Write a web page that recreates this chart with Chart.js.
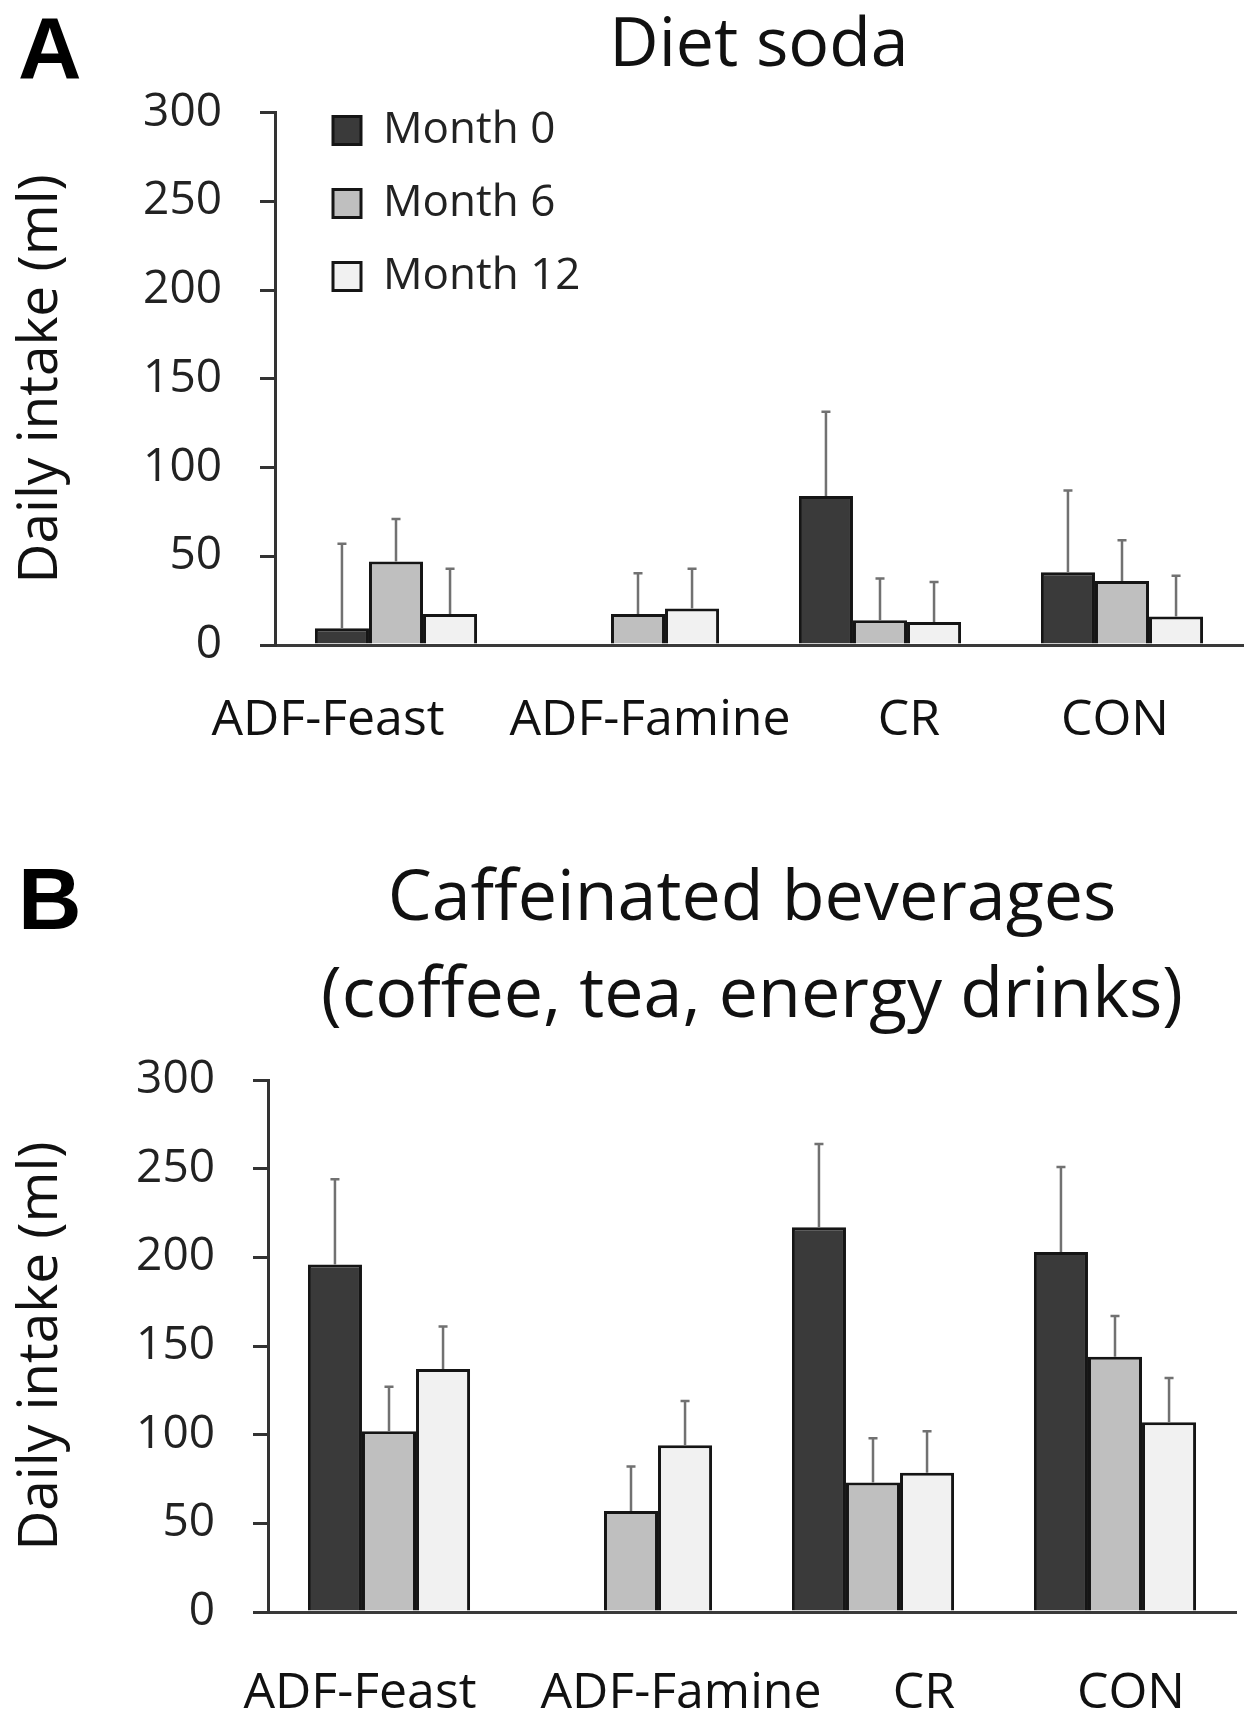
<!DOCTYPE html>
<html>
<head>
<meta charset="utf-8">
<script src="https://cdn.jsdelivr.net/npm/chart.js@4.4.1/dist/chart.umd.min.js"></script>
<style>
  html, body { margin: 0; padding: 0; background: #fff; }
  canvas { display: block; }
</style>
</head>
<body>
<canvas id="sodaChart" width="1256" height="760"></canvas>
<canvas id="cafChart" width="1256" height="969"></canvas>
<script>
// groups and series
const groups = ['ADF-Feast', 'ADF-Famine', 'CR', 'CON'];
const months = ['Month 0', 'Month 6', 'Month 12'];
const yMax = 300;
const yStep = 50;

// Diet soda (ml/day), bar heights and top of error bar
const sodaM0 = [9.5, null, 84, 41];
const sodaM6 = [47, 17.5, 14, 36];
const sodaM12 = [17.5, 20.5, 13, 16];
const sodaM0Err = [57, null, 131.5, 87];
const sodaM6Err = [71, 40.5, 37.5, 59];
const sodaM12Err = [43, 43, 35.5, 39];

// Caffeinated beverages (ml/day)
const cafM0 = [196, null, 217, 203];
const cafM6 = [102, 57, 73, 144];
const cafM12 = [137, 94, 78.5, 107];
const cafM0Err = [244, null, 264, 251];
const cafM6Err = [127, 82, 98, 167];
const cafM12Err = [161, 119, 102, 132];

const fills = ['#3a3a3a', '#bfbfbf', '#f1f1f1'];
const edge = '#151515';

Chart.defaults.font.family = "'Open Sans', sans-serif";
Chart.defaults.color = '#111';

// one-sided error bars, drawn from the bar top upward
const errorBars = {
  id: 'errorBars',
  afterDatasetsDraw(chart) {
    const ctx = chart.ctx;
    const y = chart.scales.y;
    ctx.save();
    ctx.strokeStyle = '#717171';
    ctx.lineWidth = 2.5;
    chart.data.datasets.forEach((ds, di) => {
      if (!ds.errTop) return;
      chart.getDatasetMeta(di).data.forEach((bar, i) => {
        if (ds.data[i] == null || ds.errTop[i] == null) return;
        const top = y.getPixelForValue(ds.errTop[i]);
        ctx.beginPath();
        ctx.moveTo(bar.x, bar.y);
        ctx.lineTo(bar.x, top);
        ctx.moveTo(bar.x - 4.5, top);
        ctx.lineTo(bar.x + 4.5, top);
        ctx.stroke();
      });
    });
    ctx.restore();
  }
};

// group labels sit a bit off the group centre in the original
const groupLabels = {
  id: 'groupLabels',
  afterDraw(chart, args, opts) {
    const ctx = chart.ctx;
    const x = chart.scales.x;
    ctx.save();
    ctx.font = "50px 'Open Sans', sans-serif";
    ctx.fillStyle = '#111';
    ctx.textAlign = 'center';
    ctx.textBaseline = 'alphabetic';
    chart.data.labels.forEach((lab, i) => {
      ctx.fillText(lab, x.getPixelForValue(i) + opts.shift[i], opts.baseline);
    });
    ctx.restore();
  }
};

const panelLetter = {
  id: 'panelLetter',
  afterDraw(chart, args, opts) {
    const ctx = chart.ctx;
    ctx.save();
    ctx.font = "bold 88px 'Liberation Sans', Arial, sans-serif";
    ctx.fillStyle = '#000';
    ctx.textAlign = 'left';
    ctx.textBaseline = 'alphabetic';
    ctx.fillText(opts.text, 18, opts.baseline);
    ctx.restore();
  }
};

// legend lives inside the plot, near the top-left corner
const legendNudge = {
  id: 'legendNudge',
  afterLayout(chart) {
    const lg = chart.legend;
    if (lg && lg.options.display) {
      lg.left = chart.chartArea.left + 29;
      lg.top = chart.chartArea.top - 33;
      lg.bottom = chart.chartArea.bottom;
    }
  }
};

function makeDatasets(series, errs) {
  return series.map((vals, k) => ({
    label: months[k],
    data: vals,
    errTop: errs[k],
    backgroundColor: fills[k],
    borderColor: edge,
    borderWidth: 3,
    borderSkipped: 'bottom',
    barPercentage: 1,
    categoryPercentage: 0.67
  }));
}

function makeOptions(cfg) {
  return {
    responsive: false,
    animation: false,
    layout: { padding: { left: 0, top: 0, bottom: 0, right: cfg.rightSpace } },
    plugins: {
      title: {
        display: true,
        text: cfg.title,
        fullSize: false,
        color: '#111',
        font: { size: cfg.titleSize, weight: 'normal', lineHeight: cfg.titleLine },
        padding: { top: cfg.titleTop, bottom: cfg.titleBottom }
      },
      legend: {
        display: cfg.legend,
        position: 'chartArea',
        align: 'start',
        labels: {
          color: '#222',
          font: { size: 44 },
          boxWidth: 28,
          boxHeight: 28,
          padding: 29
        }
      },
      tooltip: { enabled: false },
      groupLabels: { shift: cfg.shift, baseline: cfg.labelBase },
      panelLetter: { text: cfg.letter, baseline: cfg.letterBase }
    },
    scales: {
      x: {
        ticks: { display: false },
        grid: { display: false },
        border: { display: true, color: '#3a3a3a', width: 3 },
        afterFit: (s) => { s.height = cfg.bottomSpace; }
      },
      y: {
        min: 0,
        max: yMax,
        ticks: {
          stepSize: yStep,
          padding: 38,
          color: '#222',
          font: { size: 46 }
        },
        grid: {
          display: true,
          drawOnChartArea: false,
          drawTicks: true,
          tickLength: 15,
          color: '#333',
          lineWidth: 3
        },
        border: { display: true, color: '#333', width: 3 },
        title: {
          display: true,
          text: 'Daily intake (ml)',
          color: '#111',
          font: { size: 55 },
          padding: { top: 8, bottom: 0 }
        },
        afterFit: (s) => { s.width = cfg.leftSpace; }
      }
    }
  };
}

new Chart(document.getElementById('sodaChart'), {
  type: 'bar',
  data: {
    labels: groups,
    datasets: makeDatasets([sodaM0, sodaM6, sodaM12], [sodaM0Err, sodaM6Err, sodaM12Err])
  },
  options: makeOptions({
    title: 'Diet soda',
    titleSize: 68,
    titleLine: 1.2,
    titleTop: 6,
    titleBottom: 25,
    legend: true,
    shift: [-68, 12, 29, -7],
    labelBase: 735,
    letter: 'A',
    letterBase: 78,
    bottomSpace: 115,
    leftSpace: 275,
    rightSpace: 13
  }),
  plugins: [errorBars, groupLabels, panelLetter, legendNudge]
});

new Chart(document.getElementById('cafChart'), {
  type: 'bar',
  data: {
    labels: groups,
    datasets: makeDatasets([cafM0, cafM6, cafM12], [cafM0Err, cafM6Err, cafM12Err])
  },
  options: makeOptions({
    title: ['Caffeinated beverages', '(coffee, tea, energy drinks)'],
    titleSize: 70,
    titleLine: 1.386,
    titleTop: 92,
    titleBottom: 34,
    legend: false,
    shift: [-29, 50, 51, 16],
    labelBase: 948,
    letter: 'B',
    letterBase: 169,
    bottomSpace: 117,
    leftSpace: 268,
    rightSpace: 20
  }),
  plugins: [errorBars, groupLabels, panelLetter, legendNudge]
});
</script>
</body>
</html>
